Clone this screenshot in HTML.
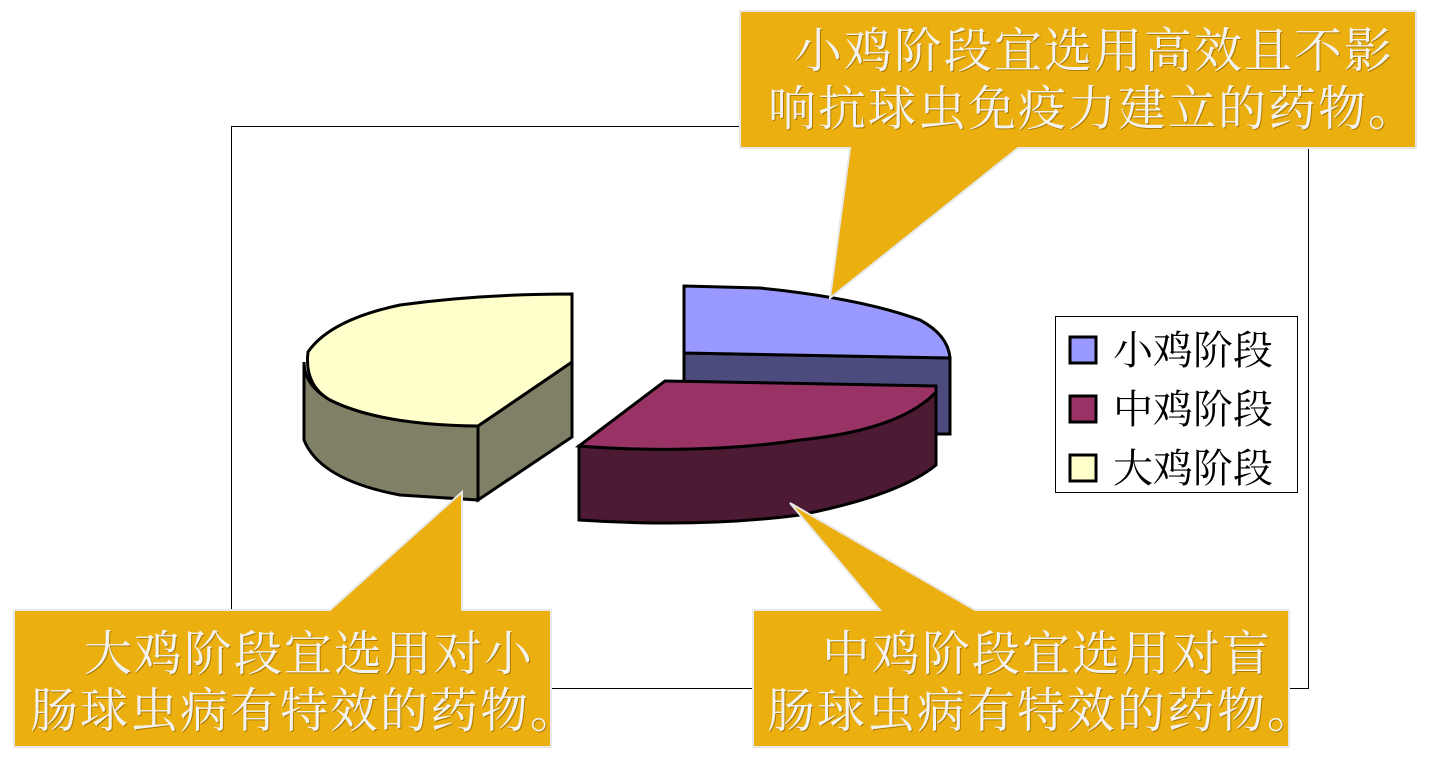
<!DOCTYPE html>
<html><head><meta charset="utf-8"><style>
html,body{margin:0;padding:0;background:#fff;width:1448px;height:768px;overflow:hidden;position:relative}
.t{position:absolute;white-space:nowrap;font-family:"Liberation Serif","Noto Serif CJK SC",serif;color:#f2f2f2;font-size:48px;line-height:58px;letter-spacing:2px;text-shadow:1px 1px 0 #b07c00}
.lg{position:absolute;white-space:nowrap;font-family:"Liberation Serif","Noto Serif CJK SC",serif;color:#000;font-size:40px;line-height:40px}
</style></head><body>
<svg width="1448" height="768" style="position:absolute;left:0;top:0">
<rect x="231.5" y="126.5" width="1077" height="562" fill="none" stroke="#000" stroke-width="1"/>
<path d="M304,362 L304,440 Q320,480 400,495 L478,500 L478,426 Q380,425 330,400 Q304,385 304,362 Z" fill="#808066" stroke="#000" stroke-width="3"/>
<path d="M478,426 L572,362 L572,437 L478,500 Z" fill="#808066" stroke="#000" stroke-width="3"/>
<path d="M572,294 L572,362 L478,426 Q380,425 330,400 Q304,385 308,352 Q330,320 400,305 Q480,294 572,294 Z" fill="#FFFFCC" stroke="#000" stroke-width="3"/>
<path d="M684,353 L950,358 L950,434 L684,434 Z" fill="#4B4B7D" stroke="#000" stroke-width="3"/>
<path d="M684,286 L760,288 Q860,298 920,320 Q948,335 950,358 L684,353 Z" fill="#9999FF" stroke="#000" stroke-width="3"/>
<path d="M579,446 L579,520 Q700,528 800,515 Q900,495 936,465 L936,392 Q900,430 800,440 Q700,455 579,446 Z" fill="#4C1A33" stroke="#000" stroke-width="3"/>
<path d="M579,446 L665,381 L936,386 L936,392 Q900,430 800,440 Q700,455 579,446 Z" fill="#993366" stroke="#000" stroke-width="3"/>
<rect x="1055.5" y="316.5" width="242" height="176" fill="#fff" stroke="#000" stroke-width="1"/>
<rect x="1070" y="337" width="26" height="26" fill="#9999FF" stroke="#000" stroke-width="3"/>
<rect x="1070" y="396" width="26" height="26" fill="#993366" stroke="#000" stroke-width="3"/>
<rect x="1070" y="455" width="26" height="26" fill="#FFFFCC" stroke="#000" stroke-width="3"/>
<g fill="#EBAF0F" stroke="#e8e8e8" stroke-width="2">
<path d="M740,11 L1416,11 L1416,148 L1018,148 L830,298 L850,148 L740,148 Z"/>
<path d="M14,610 L330,610 L462,492 L462,610 L551,610 L551,747 L14,747 Z"/>
<path d="M753,610 L880,610 L790,503 L975,610 L1289,610 L1289,747 L753,747 Z"/>
</g>
</svg>
<div class="lg" style="left:1113px;top:331px">小鸡阶段</div>
<div class="lg" style="left:1113px;top:390px">中鸡阶段</div>
<div class="lg" style="left:1113px;top:449px">大鸡阶段</div>
<div class="t" style="left:794px;top:23px">小鸡阶段宜选用高效且不影</div>
<div class="t" style="left:768px;top:81px">响抗球虫免疫力建立的药物。</div>
<div class="t" style="left:84px;top:626px">大鸡阶段宜选用对小</div>
<div class="t" style="left:30px;top:683px">肠球虫病有特效的药物。</div>
<div class="t" style="left:822px;top:626px">中鸡阶段宜选用对盲</div>
<div class="t" style="left:767px;top:683px">肠球虫病有特效的药物。</div>
</body></html>
